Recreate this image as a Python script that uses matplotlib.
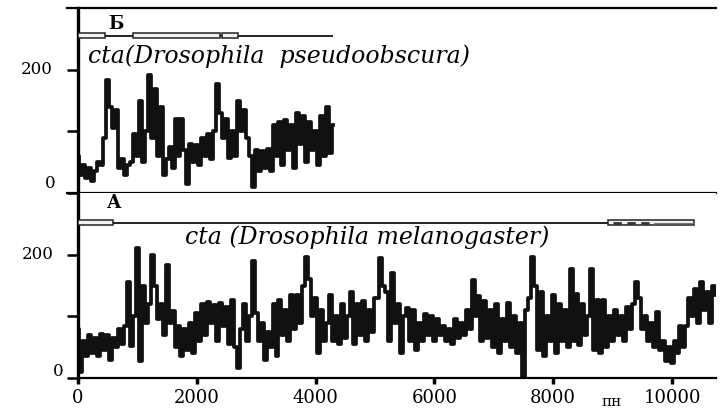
import numpy as np
import matplotlib
matplotlib.use("Agg")
import matplotlib.pyplot as plt
from matplotlib.patches import Rectangle

plt.rcParams['font.family'] = ['DejaVu Serif']

# window step, bp
step = 50

# cta, Drosophila pseudoobscura (panel Б)
pseudo_vals = [60, 30, 45, 25, 40, 20, 35, 50, 45, 90,
               184, 140, 105, 135, 40, 55, 30, 45, 50, 95,
               60, 150, 50, 100, 192, 90, 168, 60, 140, 30,
               55, 75, 40, 120, 60, 120, 70, 15, 80, 50,
               78, 46, 90, 60, 95, 55, 100, 176, 130, 90,
               120, 56, 100, 60, 150, 100, 135, 90, 60, 10,
               70, 35, 68, 40, 72, 35, 110, 60, 115, 45,
               119, 70, 110, 40, 130, 80, 125, 50, 115, 70,
               100, 45, 125, 60, 140, 65, 110]

# cta, Drosophila melanogaster (panel А)
mel_vals = [80, 10, 60, 35, 70, 40, 65, 35, 72, 45,
            70, 30, 65, 50, 80, 55, 85, 155, 52, 100,
            211, 28, 150, 90, 120, 200, 150, 95, 120, 70,
            184, 90, 108, 50, 84, 35, 80, 45, 90, 40,
            105, 60, 120, 70, 123, 90, 118, 60, 122, 85,
            115, 55, 126, 50, 16, 80, 120, 60, 100, 189,
            106, 60, 90, 30, 75, 50, 120, 35, 127, 70,
            111, 60, 134, 80, 134, 90, 150, 197, 160, 100,
            130, 40, 110, 60, 90, 134, 60, 100, 55, 120,
            65, 100, 139, 55, 120, 70, 125, 60, 110, 75,
            130, 130, 195, 150, 140, 60, 170, 90, 120, 40,
            100, 113, 60, 110, 45, 90, 60, 103, 70, 100,
            60, 95, 70, 84, 60, 80, 55, 95, 65, 90,
            70, 110, 80, 159, 100, 133, 60, 125, 65, 110,
            50, 120, 40, 95, 60, 122, 50, 100, 40, 90,
            2, 110, 130, 197, 150, 45, 140, 35, 100, 60,
            135, 40, 120, 60, 110, 50, 176, 60, 136, 54,
            120, 70, 100, 176, 45, 126, 40, 126, 50, 100,
            60, 110, 70, 100, 60, 115, 80, 120, 156, 130,
            80, 100, 60, 90, 50, 107, 45, 60, 28, 50,
            25, 60, 40, 85, 50, 85, 130, 100, 145, 90,
            156, 110, 140, 90, 150, 135]

# gene structure: (start, end) of boxes, and total length
pseudo_gene_len = 4300
pseudo_boxes = [(0, 455), (926, 2390), (2420, 2694)]
mel_gene_len = 10370
mel_boxes = [(0, 590), (8923, 10370)]

xticks = [0, 2000, 4000, 6000, 8000, 10000]
yticks = [0, 100, 200]

fig = plt.figure(figsize=(7.22, 4.12), dpi=100)
W, H = 722, 412
x0, x1 = 78, 716
ax1 = fig.add_axes([x0 / W, 1 - 193 / H, (x1 - x0) / W, (193 - 8) / H])
ax2 = fig.add_axes([x0 / W, 1 - 378 / H, (x1 - x0) / W, (378 - 193) / H])

xmax = 10740
for ax in (ax1, ax2):
    ax.set_xlim(0, xmax)
    ax.set_ylim(0, 300)
    ax.spines['right'].set_visible(False)
    ax.spines['left'].set_linewidth(2.4)
    ax.set_yticks(yticks)
    ax.set_yticklabels([])
    ax.tick_params(axis='y', direction='out', length=8, width=1.8)
ax1.annotate('200', xy=(0, 200), xycoords=('axes fraction', 'data'),
             xytext=(-25, 0), textcoords='offset pixels',
             ha='right', va='center', fontsize=12)
ax1.annotate('0', xy=(0, 0), xycoords=('axes fraction', 'data'),
             xytext=(-22, 9), textcoords='offset pixels',
             ha='right', va='center', fontsize=12)
ax2.annotate('200', xy=(0, 200), xycoords=('axes fraction', 'data'),
             xytext=(-24, 0), textcoords='offset pixels',
             ha='right', va='center', fontsize=12)
ax2.annotate('0', xy=(0, 0), xycoords=('axes fraction', 'data'),
             xytext=(-15, 7), textcoords='offset pixels',
             ha='right', va='center', fontsize=12)

ax1.spines['top'].set_linewidth(1.6)
ax1.spines['top'].set_bounds(-185, xmax)
ax1.spines['bottom'].set_linewidth(1.6)
ax1.spines['bottom'].set_bounds(-185, xmax)
ax1.set_xticks([])
ax2.spines['top'].set_visible(False)
ax2.spines['bottom'].set_linewidth(1.6)
ax2.set_xticks(xticks)
ax2.set_xticklabels([str(t) for t in xticks], fontsize=13)
ax2.tick_params(axis='x', direction='out', length=4, width=2.5, pad=4)

pseudo_x = np.arange(len(pseudo_vals)) * step
mel_x = np.arange(len(mel_vals)) * step
ax1.plot(pseudo_x, pseudo_vals, drawstyle='steps-mid', color='#111111', lw=2.7)
ax2.plot(mel_x, mel_vals, drawstyle='steps-mid', color='#111111', lw=2.7)

def gene(ax, y, length, boxes):
    ax.plot([-80, length], [y, y], color='#222222', lw=1.4, solid_capstyle='butt')
    for a, b in boxes:
        ax.add_patch(Rectangle((a, y - 4), b - a, 8, facecolor='#f2f2f2',
                               edgecolor='#222222', lw=1.1, zorder=3))

gene(ax1, 255, pseudo_gene_len, pseudo_boxes)
gene(ax2, 252, mel_gene_len, mel_boxes)
ax2.plot([9000, 9650], [252, 252], color='#333333', lw=2, ls=(0, (3, 2)), zorder=4)
ax2.plot([9700, 10350], [252, 252], color='#777777', lw=0.8, zorder=4)

ax1.text(640, 274, 'Б', fontsize=13, fontweight='bold', ha='center', va='center')
ax2.text(606, 283, 'А', fontsize=13, fontweight='bold', ha='center', va='center')
ax1.text(170, 222, 'cta(Drosophila  pseudoobscura)', fontsize=17,
         style='italic', ha='left', va='center')
ax2.text(1800, 229, 'cta (Drosophila melanogaster)', fontsize=17,
         style='italic', ha='left', va='center')
fig.text(612 / W, 1 - 402 / H, 'пн', fontsize=11, ha='center', va='center')

fig.savefig('out.png', dpi=100)
